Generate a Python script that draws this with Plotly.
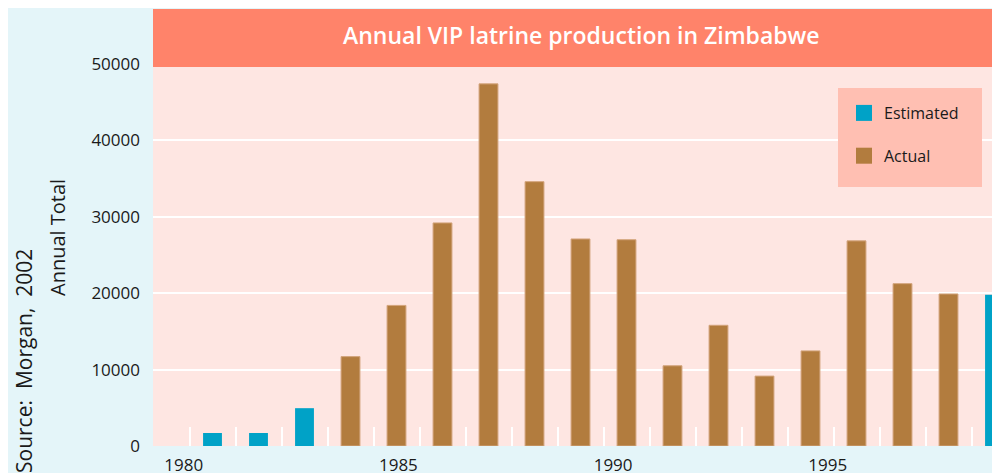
import plotly.graph_objects as go

# ---- data ----
years = list(range(1981, 1999))
estimated_years = [1981, 1982, 1983, 1998]
estimated_values = [1700, 1700, 4950, 19800]
actual_years = list(range(1984, 1998))
actual_values = [11700, 18400, 29200, 47400, 34600, 27100, 27000,
                 10500, 15800, 9150, 12450, 26850, 21250, 19900]
tick_years = [1980, 1985, 1990, 1995]
tick_labels = ["1980", "1985", "1990", "1995"]
y_ticks = [0, 10000, 20000, 30000, 40000, 50000]

BLUE = "#00a2c7"
BROWN = "#b27c3e"
PLOT_BG = "#fee6e2"
PAPER_BG = "#e4f5f9"
TITLE_BG = "#ff836a"
LEGEND_BG = "#ffbfb2"
TXT = "#1a1a1a"
FONT = "Open Sans"

OX, OY = 8, 8            # page offset of the figure (body margin)
W, H = 992, 465
L, R, T, B = 145, 0, 56, 27
pw, ph = W - L - R, H - T - B


def px(x):
    return (x - OX - L) / pw


def py(y):
    return (H - B - (y - OY)) / ph


fig = go.Figure()
fig.add_trace(go.Bar(x=estimated_years, y=estimated_values, width=0.41,
                     marker=dict(color=BLUE, line=dict(width=0)),
                     name="Estimated", showlegend=False))
fig.add_trace(go.Bar(x=actual_years, y=actual_values, width=0.41,
                     marker=dict(color=BROWN, line=dict(width=1, color="#d3a47c")),
                     name="Actual", showlegend=False))
# legend entries
fig.add_trace(go.Scatter(x=[None], y=[None], mode="markers", name="Estimated",
                         legendgroup="e",
                         marker=dict(symbol="square", size=19, color=BLUE)))
fig.add_trace(go.Scatter(x=[None], y=[None], mode="markers", name="Actual",
                         legendgroup="a",
                         marker=dict(symbol="square", size=19, color=BROWN)))
# label axis carrier
fig.add_trace(go.Scatter(x=tick_years, y=[None] * len(tick_years), xaxis="x2",
                         mode="markers", showlegend=False, hoverinfo="skip"))

x0 = years[0] - 1 + (153 - 166.5) / 46.0
x1 = x0 + pw / 46.0
x2a = 1980 + (153 - 183.7) / 42.94
x2b = 1980 + (1000 - 183.7) / 42.94

fig.update_layout(
    width=W, height=H,
    margin=dict(l=L, r=R, t=T, b=B, pad=0, autoexpand=False),
    paper_bgcolor=PAPER_BG, plot_bgcolor=PLOT_BG,
    barmode="overlay",
    font=dict(family=FONT, color=TXT, size=17),
    xaxis=dict(range=[x0, x1], tickvals=[y - 0.5 for y in years], automargin=False,
               showticklabels=False, ticks="inside", ticklen=19, tickwidth=2,
               tickcolor="white", showgrid=False, zeroline=False, showline=False),
    xaxis2=dict(overlaying="x", side="bottom", anchor="y", range=[x2a, x2b],
                tickvals=tick_years, ticktext=tick_labels, ticks="", automargin=False,
                showgrid=False, zeroline=False, showline=False,
                tickfont=dict(size=17, color=TXT), ticklabelstandoff=7),
    yaxis=dict(range=[0, 50000], tickvals=y_ticks, tickformat="d", automargin=False,
               showgrid=True, gridcolor="white", gridwidth=1.5,
               zeroline=False, showline=False, ticks="",
               tickfont=dict(size=17, color=TXT), ticklabelstandoff=12),
    legend=dict(x=px(844), y=py(96), xanchor="left", yanchor="top",
                bgcolor="rgba(0,0,0,0)", font=dict(size=16, color=TXT),
                tracegroupgap=19, traceorder="grouped", itemclick=False),
    showlegend=True,
    shapes=[
        dict(type="rect", xref="paper", yref="paper", x0=0, x1=1,
             y0=py(67), y1=py(9), fillcolor=TITLE_BG, line=dict(width=0), layer="above"),
        dict(type="rect", xref="paper", yref="paper", x0=px(838), x1=px(982),
             y0=py(187), y1=py(88), fillcolor=LEGEND_BG, line=dict(width=0), layer="above"),
    ],
    annotations=[
        dict(text="Annual VIP latrine production in Zimbabwe", xref="paper", yref="paper",
             x=px(581), y=py(35), xanchor="center", yanchor="middle", showarrow=False,
             font=dict(size=23, color="white", family=FONT, weight=600)),
        dict(text="Annual Total", xref="paper", yref="paper", x=px(57), y=py(238),
             xanchor="center", yanchor="middle", textangle=-90, showarrow=False,
             font=dict(size=20, color=TXT)),
        dict(text="Source:\u00a0 Morgan,\u00a0 2002", xref="paper", yref="paper",
             x=px(24), y=py(361), xanchor="center", yanchor="middle", textangle=-90,
             showarrow=False, font=dict(size=21, color=TXT)),
    ],
)

fig.write_html(
    "out.html",
    post_script="document.documentElement.style.overflow='hidden';"
                "document.body.style.overflow='hidden';",
)
